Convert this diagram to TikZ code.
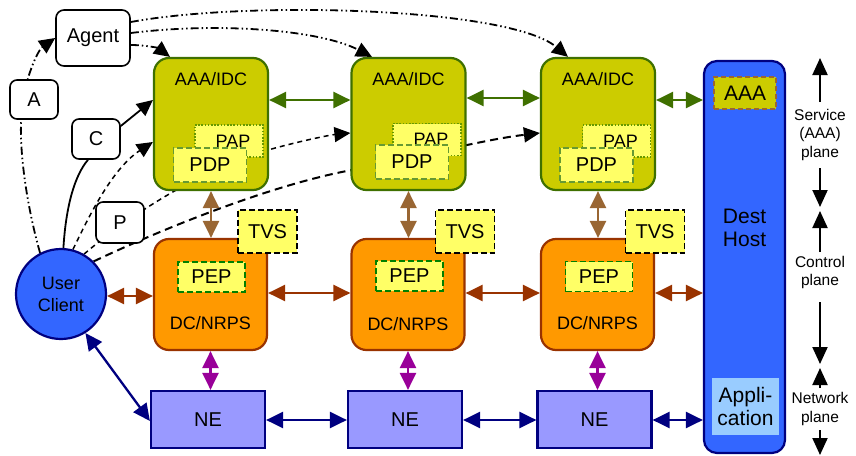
\documentclass[tikz,border=0pt]{standalone}
\usepackage{fontspec}
\setmainfont{Liberation Sans}
\usetikzlibrary{arrows.meta}
\pgfdeclarelayer{bg}
\pgfsetlayers{bg,main}
\definecolor{aaaF}{HTML}{CCCC00}
\definecolor{aaaD}{HTML}{3F7000}
\definecolor{garr}{HTML}{3F7000}
\definecolor{ltY}{HTML}{FFFF66}
\definecolor{papD}{HTML}{669900}
\definecolor{pdpD}{HTML}{669933}
\definecolor{pepD}{HTML}{008000}
\definecolor{dcF}{HTML}{FF9900}
\definecolor{dcD}{HTML}{993300}
\definecolor{tanA}{HTML}{996633}
\definecolor{rustA}{HTML}{993300}
\definecolor{magA}{HTML}{990099}
\definecolor{navyC}{HTML}{000080}
\definecolor{neF}{HTML}{9999FF}
\definecolor{hostF}{HTML}{3366FF}
\definecolor{appF}{HTML}{99CCFF}
\begin{document}
\begin{tikzpicture}[x=1pt,y=-1pt,
 f15/.style={font=\fontsize{15.5}{18.5}\selectfont},
 f18/.style={font=\fontsize{18}{22}\selectfont},
 f20/.style={font=\fontsize{20}{23}\selectfont},
 f21/.style={font=\fontsize{21}{23.5}\selectfont},
 aaab/.style={draw=aaaD,fill=aaaF,line width=2.2pt,rounded corners=15pt,minimum width=114pt,minimum height=132pt,inner sep=0pt},
 papb/.style={draw=papD,fill=ltY,line width=1.6pt,dash pattern=on 1.6pt off 1.6pt,minimum width=68pt,minimum height=32pt,inner sep=0pt,f18},
 pdpb/.style={draw=pdpD,fill=ltY,line width=1.8pt,dash pattern=on 6pt off 3pt,minimum width=73pt,minimum height=34pt,inner sep=0pt,f20},
 tvsb/.style={draw=black,fill=ltY,line width=1.8pt,dash pattern=on 6pt off 3pt,minimum width=59pt,minimum height=43pt,inner sep=0pt,f20},
 dcb/.style={draw=dcD,fill=dcF,line width=2.2pt,rounded corners=15pt,minimum width=113pt,minimum height=111pt,inner sep=0pt},
 pepb/.style={draw=pepD,fill=ltY,line width=1.8pt,dash pattern=on 6pt off 3pt,minimum width=67pt,minimum height=30pt,inner sep=0pt,f20},
 neb/.style={draw=navyC,fill=neF,line width=2.2pt,minimum width=114pt,minimum height=57pt,inner sep=0pt,f20},
 wbox/.style={draw=black,fill=white,line width=1.6pt,rounded corners=7pt,inner sep=0pt,minimum width=48pt,minimum height=40pt,f20},
 hostb/.style={draw=navyC,fill=hostF,line width=2.2pt,rounded corners=13pt,minimum width=81pt,minimum height=392pt,inner sep=0pt},
 dbl/.style={line width=2.3pt,{Triangle[length=17pt,width=16pt]}-{Triangle[length=17pt,width=16pt]}},
 blk/.style={-{Triangle[length=16pt,width=15pt]}},
 ddot/.style={line width=1.8pt,dash pattern=on 8pt off 3pt on 1.5pt off 3pt on 1.5pt off 3pt},
 dsh/.style={line width=1.5pt,dash pattern=on 5pt off 4pt},
 dshb/.style={line width=2pt,dash pattern=on 8pt off 5pt},
 pl/.style={line width=2pt,-{Triangle[length=17pt,width=15pt]}}
]
\useasboundingbox (0,0) rectangle (856,455);

% service plane boxes
\node[aaab] (aaa1) at (211,124) {};
\node[aaab] (aaa2) at (408.5,124) {};
\node[aaab] (aaa3) at (598,124) {};
\node[f18] (aaa1t) at (211,79) {AAA/IDC};
\node[f18] (aaa2t) at (408.5,79) {AAA/IDC};
\node[f18] (aaa3t) at (598,79) {AAA/IDC};
\node[papb] (pap1) at (229,141) {\hspace*{8pt}PAP};
\node[papb] (pap2) at (427,139.5) {\hspace*{8pt}PAP};
\node[papb] (pap3) at (616.5,141) {\hspace*{8pt}PAP};
\node[pdpb] (pdp1) at (210,165) {PDP};
\node[pdpb] (pdp2) at (412,162) {PDP};
\node[pdpb] (pdp3) at (596.5,165) {PDP};

% control plane boxes
\node[dcb] (dc1) at (210.5,294.5) {};
\node[dcb] (dc2) at (408,294.5) {};
\node[dcb] (dc3) at (597.5,294.5) {};
\node[f18] (dc1t) at (210.5,323) {DC/NRPS};
\node[f18] (dc2t) at (408,324) {DC/NRPS};
\node[f18] (dc3t) at (597.5,323) {DC/NRPS};
\node[pepb] (pep1) at (211.5,277) {PEP};
\node[pepb] (pep2) at (409.5,276) {PEP};
\node[pepb] (pep3) at (599,276.5) {PEP};
\node[tvsb] (tvs1) at (267.5,231.5) {TVS};
\node[tvsb] (tvs2) at (465,231.5) {TVS};
\node[tvsb] (tvs3) at (655,231.5) {TVS};

% network plane
\node[neb] (ne1) at (208,419.5) {NE};
\node[neb] (ne2) at (405,419.5) {NE};
\node[neb] (ne3) at (594.5,419.5) {NE};

% destination host
\node[hostb] (dest) at (744.5,257) {};
\node[draw=tanA,fill=aaaF,line width=1.8pt,dash pattern=on 5pt off 3pt,minimum width=62pt,minimum height=32pt,inner sep=0pt,f21] (daaa) at (745,93) {AAA};
\node[f21,align=center] (destt) at (744.5,228) {Dest\\Host};
\node[fill=appF,minimum width=67pt,minimum height=57pt,inner sep=0pt,f21,align=center] (app) at (745.5,406.5) {Appli-\\cation};

% user side
\node[circle,draw=navyC,fill=hostF,line width=2.2pt,minimum size=90pt,inner sep=0pt,f18,align=center] (client) at (61,294) {User\\Client};
\node[wbox,minimum width=74pt,minimum height=56pt,rounded corners=8pt] (agent) at (93,38) {Agent};
\node[wbox,minimum height=39pt] (A) at (34,99.5) {A};
\node[wbox] (C) at (96,139) {C};
\node[wbox,minimum height=41pt] (P) at (120,222.5) {P};

% curved connectors behind the boxes
\begin{pgfonlayer}{bg}
\draw[ddot,blk] (client.117) .. controls (25,200) and (18,140) .. (22,110) .. controls (24,80) and (38,50) .. (agent.west);
\draw[line width=1.8pt] (client.87) .. controls (66,205) and (75,175) .. (C.south -| 88,0);
\draw[line width=1.8pt,blk] (C.east |- 0,126) -- (aaa1.west |- 0,100);
\draw[dsh,blk] (client.75) .. controls (85,225) and (110,170) .. (aaa1.west |- 0,142);
\draw[dsh,blk] (client.60) .. controls (130,215) and (200,170) .. (268,150) .. controls (300,141) and (330,135) .. (aaa2.west |- 0,133);
\draw[dshb,blk] (client.45) .. controls (160,230) and (270,185) .. (352,170) .. controls (400,161) and (480,140) .. (aaa3.west |- 0,133);
\draw[ddot,blk] (agent.east |- 0,45) .. controls (145,45) and (158,48) .. (aaa1.north -| 170,0);
\draw[ddot,blk] (agent.east |- 0,33) .. controls (220,22) and (320,30) .. (aaa2.north -| 372,0);
\draw[ddot,blk] (agent.east |- 0,22) .. controls (250,0) and (510,8) .. (aaa3.north -| 568,0);
\end{pgfonlayer}

% double-headed connectors
\draw[dbl,garr] (aaa1.east |- 0,100) -- (aaa2.west |- 0,100);
\draw[dbl,garr] (aaa2.east |- 0,98) -- (aaa3.west |- 0,98);
\draw[dbl,garr] (aaa3.east |- 0,100) -- (dest.west |- 0,100);
\draw[dbl,tanA] (aaa1.south) -- (aaa1.south |- dc1.north);
\draw[dbl,tanA] (aaa2.south) -- (aaa2.south |- dc2.north);
\draw[dbl,tanA] (aaa3.south) -- (aaa3.south |- dc3.north);
\draw[dbl,rustA] (client.east |- 0,296) -- (dc1.west |- 0,296);
\draw[dbl,rustA] (dc1.east |- 0,293) -- (dc2.west |- 0,293);
\draw[dbl,rustA] (dc2.east |- 0,293) -- (dc3.west |- 0,293);
\draw[dbl,rustA] (dc3.east |- 0,293) -- (dest.west |- 0,293);
\draw[dbl,magA] (dc1.south) -- (dc1.south |- ne1.north);
\draw[dbl,magA] (dc2.south) -- (dc2.south |- ne2.north);
\draw[dbl,magA] (dc3.south) -- (dc3.south |- ne3.north);
\draw[dbl,navyC] (ne1.east |- 0,420) -- (ne2.west |- 0,420);
\draw[dbl,navyC] (ne2.east |- 0,420) -- (ne3.west |- 0,420);
\draw[dbl,navyC] (ne3.east |- 0,420) -- (dest.west |- 0,420);
\draw[dbl,navyC] (client.-58) -- (ne1.west |- 0,421);

% plane labels
\node[f15,align=center] (svc) at (820,134.5) {Service\\(AAA)\\plane};
\node[f15,align=center] (ctl) at (820,272.5) {Control\\plane};
\node[f15,align=center] (net) at (820,409) {Network\\plane};
\coordinate (p1) at (820,58);
\coordinate (p2) at (820,102);
\coordinate (p3) at (820,168);
\coordinate (p4) at (820,207);
\coordinate (p5) at (820,211);
\coordinate (p6) at (820,252);
\coordinate (p7) at (820,302);
\coordinate (p8) at (820,364);
\coordinate (p9) at (820,368);
\coordinate (p10) at (820,388);
\coordinate (p11) at (820,430);
\coordinate (p12) at (820,455);
\draw[pl] (p2) -- (p1);
\draw[pl] (p3) -- (p4);
\draw[pl] (p6) -- (p5);
\draw[pl] (p7) -- (p8);
\draw[pl] (p10) -- (p9);
\draw[pl] (p11) -- (p12);
\end{tikzpicture}
\end{document}
